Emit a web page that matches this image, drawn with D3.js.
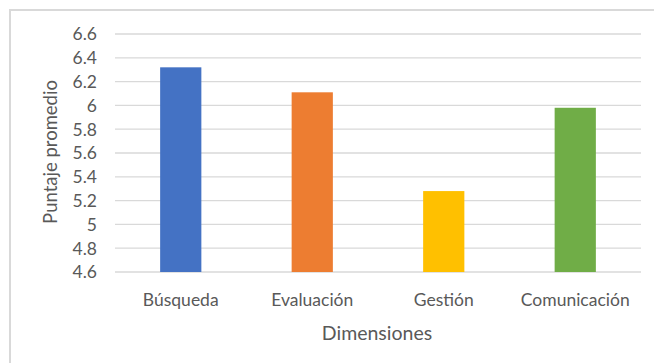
<!DOCTYPE html>
<html>
<head>
<meta charset="utf-8">
<script src="https://cdn.jsdelivr.net/npm/d3@7"></script>
<style>
  body { margin: 0; background: #fff; }
  svg text { font-family: Lato, "Open Sans", sans-serif; fill: #595959; }
</style>
</head>
<body>
<div id="chart"></div>
<script>
// data
var categories = ["Búsqueda", "Evaluación", "Gestión", "Comunicación"];
var values = [6.32, 6.11, 5.28, 5.98];
var colors = ["#4472C4", "#ED7D31", "#FFC000", "#70AD47"];
var yTicks = [4.6, 4.8, 5, 5.2, 5.4, 5.6, 5.8, 6, 6.2, 6.4, 6.6];

var WIDTH = 654, HEIGHT = 363;
var plot = {left: 115, right: 641, top: 34, bottom: 272};

var svg = d3.select("#chart").append("svg")
    .attr("width", WIDTH)
    .attr("height", HEIGHT);

// chart area border (only top + left visible in the crop)
svg.append("rect")
    .attr("x", 10).attr("y", 10)
    .attr("width", WIDTH).attr("height", HEIGHT)
    .attr("fill", "none")
    .attr("stroke", "#d9d9d9")
    .attr("stroke-width", 2);

var x = d3.scaleBand()
    .domain(categories)
    .range([plot.left, plot.right]);

var y = d3.scaleLinear()
    .domain([4.6, 6.6])
    .range([plot.bottom, plot.top]);

// gridlines
svg.append("g")
    .selectAll("line")
    .data(yTicks)
    .enter().append("line")
    .attr("x1", plot.left).attr("x2", plot.right)
    .attr("y1", function(d) { return y(d); })
    .attr("y2", function(d) { return y(d); })
    .attr("stroke", "#d9d9d9")
    .attr("stroke-width", 1.3);

// y tick labels
svg.append("g")
    .selectAll("text")
    .data(yTicks)
    .enter().append("text")
    .attr("x", 97)
    .attr("y", function(d) { return y(d); })
    .attr("dy", "0.36em")
    .attr("text-anchor", "end")
    .style("font-size", "17.5px")
    .text(function(d) { return d3.format("")(d); });

// bars, gap width like excel (~219%)
var bw = x.bandwidth() / 3.19;
svg.append("g")
    .selectAll("rect")
    .data(values)
    .enter().append("rect")
    .attr("x", function(d, i) { return x(categories[i]) + x.bandwidth() / 2 - bw / 2; })
    .attr("y", function(d) { return y(d); })
    .attr("width", bw)
    .attr("height", function(d) { return y(4.6) - y(d); })
    .attr("fill", function(d, i) { return colors[i]; });

// category labels
svg.append("g")
    .selectAll("text")
    .data(categories)
    .enter().append("text")
    .attr("x", function(d) { return x(d) + x.bandwidth() / 2; })
    .attr("y", 305.5)
    .attr("text-anchor", "middle")
    .style("font-size", "17.5px")
    .text(function(d) { return d; });

// axis titles
svg.append("text")
    .attr("x", 377).attr("y", 340)
    .attr("text-anchor", "middle")
    .style("font-size", "19.5px")
    .text("Dimensiones");

svg.append("text")
    .attr("transform", "translate(57,152) rotate(-90)")
    .attr("text-anchor", "middle")
    .style("font-size", "18.5px")
    .text("Puntaje promedio");
</script>
</body>
</html>
